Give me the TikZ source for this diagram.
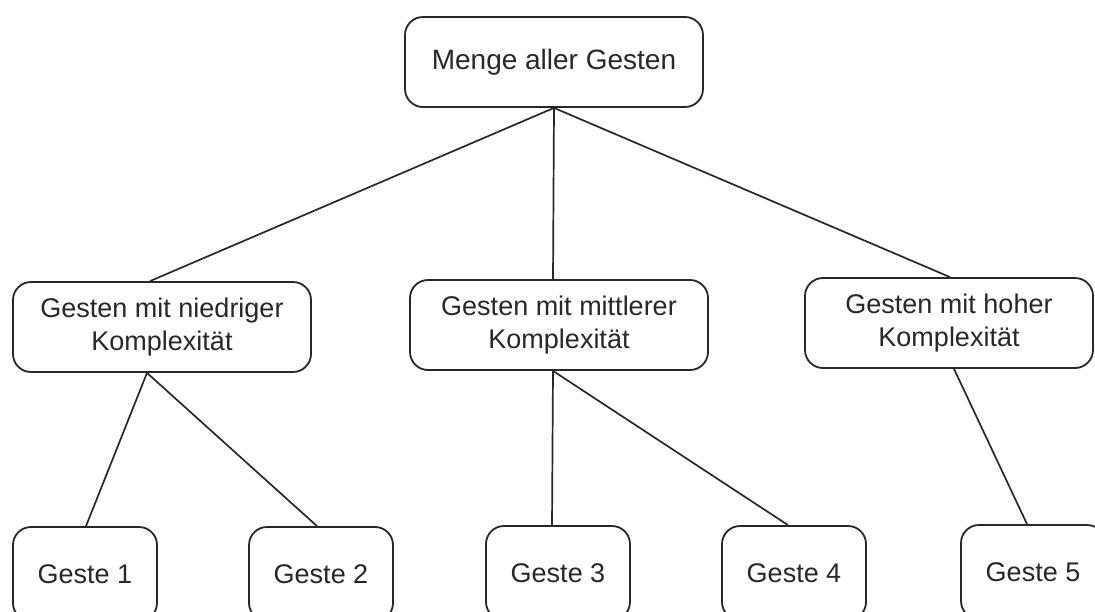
\documentclass[tikz,border=0pt]{standalone}
\usepackage{fontspec}
\setmainfont{Liberation Sans}
\definecolor{ink}{RGB}{40,40,40}
\begin{document}
\begin{tikzpicture}[x=1pt,y=-1pt,
  box/.style={draw=ink,line width=1.8pt,rounded corners=18pt,inner sep=0pt,
    align=center,text=ink,font=\fontsize{27}{33}\selectfont},
  bigbox/.style={box,minimum width=298pt,minimum height=90pt},
  leafbox/.style={box,minimum width=144pt,minimum height=94pt},
  link/.style={draw=ink,line width=1.7pt}]
  \fill[white] (0,0) rectangle (1095,611);
  \clip (0,0) rectangle (1095,611);
  \useasboundingbox (0,0) rectangle (1095,611);

  % root
  \node[bigbox] (root) at (554,62) {\fontsize{28}{33}\selectfont Menge aller Gesten};

  % complexity classes
  \node[bigbox] (low) at (162,327) {Gesten mit niedriger\\Komplexität};
  \node[bigbox] (mid) at (559,325) {Gesten mit mittlerer\\Komplexität};
  \node[bigbox,minimum width=288pt] (high) at (949,323) {Gesten mit hoher\\Komplexität};

  % single gestures
  \node[leafbox] (g1) at (85,574) {Geste 1};
  \node[leafbox] (g2) at (321,574) {Geste 2};
  \node[leafbox] (g3) at (558,573) {Geste 3};
  \node[leafbox] (g4) at (794,573) {Geste 4};
  \node[leafbox] (g5) at (1033,572) {Geste 5};

  % tree edges
  \draw[link] (root.south) -- ([xshift=-12pt]low.north);
  \draw[link] (root.south) -- ([xshift=-6pt]mid.north);
  \draw[link] (root.south) -- ([xshift=1pt]high.north);

  \draw[link] ([xshift=-15pt]low.south) -- ([xshift=1pt]g1.north);
  \draw[link] ([xshift=-15pt]low.south) -- ([xshift=-4pt]g2.north);
  \draw[link] ([xshift=-6pt]mid.south) -- ([xshift=-6pt]g3.north);
  \draw[link] ([xshift=-6pt]mid.south) -- ([xshift=-6pt]g4.north);
  \draw[link] ([xshift=5pt]high.south) -- ([xshift=-6pt]g5.north);
\end{tikzpicture}
\end{document}
